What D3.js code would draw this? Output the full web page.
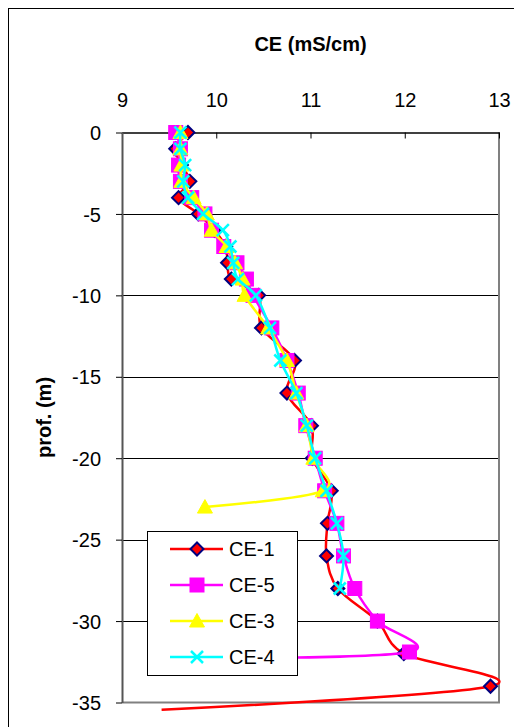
<!DOCTYPE html>
<html lang="en">
<head>
    <meta charset="UTF-8">
    <title>CE (mS/cm) vs prof. (m)</title>
    <style>
        html, body {
            margin: 0;
            padding: 0;
            background-color: white;
            overflow: hidden;
        }
        svg {
            display: block;
            font-family: "Liberation Sans", Arial, sans-serif;
        }
        .axis text {
            font-size: 20px;
            fill: #000;
        }
        .legend text {
            font-size: 20px;
            fill: #000;
        }
    </style>
    <script src="https://d3js.org/d3.v7.min.js"></script>
</head>
<body>
    <svg width="514" height="727"></svg>

    <script>
        // depth profiles (m) and conductivity readings (mS/cm) for each well
        const depthsCE1 = [0, -1, -2, -3, -4, -5, -6, -7, -8, -9, -10, -12, -14, -16, -18, -20, -22, -24, -26, -28, -30, -32, -34, -35.45];
        const valuesCE1 = [9.70, 9.57, 9.63, 9.72, 9.60, 9.81, 9.98, 10.10, 10.12, 10.16, 10.45, 10.48, 10.83, 10.75, 11.01, 11.02, 11.22, 11.18, 11.17, 11.29, 11.71, 11.99, 12.91, 9.42];

        const depthsCE5 = [0, -1, -2, -3, -4, -5, -6, -7, -8, -9, -10, -12, -14, -16, -18, -20, -22, -24, -26, -28, -30, -31.9, -32.3];
        const valuesCE5 = [9.57, 9.62, 9.60, 9.62, 9.74, 9.88, 9.95, 10.08, 10.22, 10.32, 10.39, 10.59, 10.75, 10.87, 10.95, 11.05, 11.15, 11.28, 11.35, 11.47, 11.71, 12.05, 9.90];

        const depthsCE3 = [0, -1, -2, -3, -4, -5, -6, -7, -8, -9, -10, -12, -14, -16, -18, -20, -22, -23];
        const valuesCE3 = [9.62, 9.62, 9.63, 9.63, 9.76, 9.90, 9.95, 10.11, 10.20, 10.28, 10.30, 10.55, 10.75, 10.85, 10.96, 11.03, 11.13, 9.88];

        const depthsCE4 = [0, -1, -2, -3, -4, -5, -6, -7, -8, -9, -10, -12, -14, -16, -18, -20, -22, -24, -26, -28];
        const valuesCE4 = [9.62, 9.62, 9.67, 9.65, 9.70, 9.86, 10.07, 10.15, 10.18, 10.23, 10.42, 10.57, 10.68, 10.85, 10.96, 11.05, 11.17, 11.28, 11.35, 11.31];

        const seriesNames = ["CE-1", "CE-5", "CE-3", "CE-4"];
        const xTicks = [9, 10, 11, 12, 13];
        const yTicks = [0, -5, -10, -15, -20, -25, -30, -35];

        const series = [
            { name: "CE-1", depths: depthsCE1, values: valuesCE1, color: "#ff0000", marker: "diamond" },
            { name: "CE-5", depths: depthsCE5, values: valuesCE5, color: "#ff00ff", marker: "square" },
            { name: "CE-3", depths: depthsCE3, values: valuesCE3, color: "#ffff00", marker: "triangle" },
            { name: "CE-4", depths: depthsCE4, values: valuesCE4, color: "#00ffff", marker: "cross" }
        ];

        const svg = d3.select("svg");
        const plot = { left: 122, right: 499, top: 132.5, bottom: 702.5 };

        const x = d3.scaleLinear().domain([9, 13]).range([plot.left, plot.right]);
        const y = d3.scaleLinear().domain([0, -35]).range([plot.top, plot.bottom]);

        // plain hyphen for negatives, no decimals
        const fmt = d => String(d);

        // chart frame
        svg.append("rect")
            .attr("x", 8.5).attr("y", 8.5)
            .attr("width", 600).attr("height", 800)
            .attr("fill", "white")
            .attr("stroke", "#000")
            .attr("stroke-width", 1);

        // horizontal gridlines
        svg.append("g")
            .selectAll("line")
            .data(yTicks.filter(d => d !== 0 && d !== -35))
            .enter().append("line")
            .attr("x1", plot.left).attr("x2", plot.right)
            .attr("y1", d => Math.round(y(d)) + 0.5)
            .attr("y2", d => Math.round(y(d)) + 0.5)
            .attr("stroke", "#000")
            .attr("stroke-width", 1);

        // plot area border (right and bottom)
        svg.append("path")
            .attr("d", `M${plot.right},${plot.top} V${plot.bottom} H${plot.left}`)
            .attr("fill", "none")
            .attr("stroke", "#808080")
            .attr("stroke-width", 2);

        // x axis along the top, ticks pointing into the plot
        const xAxis = svg.append("g")
            .attr("class", "axis")
            .attr("transform", `translate(0,${plot.top})`)
            .call(d3.axisTop(x).tickValues(xTicks).tickFormat(fmt)
                .tickSizeInner(-6).tickSizeOuter(0).tickPadding(26));
        xAxis.select(".domain").attr("stroke", "#000").attr("stroke-width", 1.5);
        xAxis.selectAll(".tick line").attr("stroke", "#000");

        // y axis on the left
        const yAxis = svg.append("g")
            .attr("class", "axis")
            .attr("transform", `translate(${plot.left},0)`)
            .call(d3.axisLeft(y).tickValues(yTicks).tickFormat(fmt)
                .tickSizeInner(6).tickSizeOuter(0).tickPadding(15));
        yAxis.select(".domain").attr("stroke", "#555").attr("stroke-width", 2);
        yAxis.selectAll(".tick line").attr("stroke", "#000");
        yAxis.selectAll(".tick text").attr("dy", "0.36em");

        // axis titles
        svg.append("text")
            .attr("x", (plot.left + plot.right) / 2)
            .attr("y", 51)
            .attr("text-anchor", "middle")
            .attr("font-size", "20px")
            .attr("font-weight", "bold")
            .text("CE (mS/cm)");

        svg.append("text")
            .attr("transform", `translate(51,${(plot.top + plot.bottom) / 2}) rotate(-90)`)
            .attr("text-anchor", "middle")
            .attr("font-size", "20px")
            .attr("font-weight", "bold")
            .text("prof. (m)");

        function drawMarker(g, type, color, cx, cy) {
            if (type === "diamond") {
                g.append("path")
                    .attr("d", `M${cx},${cy - 6.5} L${cx + 6.5},${cy} L${cx},${cy + 6.5} L${cx - 6.5},${cy} Z`)
                    .attr("fill", "#ff0000")
                    .attr("stroke", "#000080")
                    .attr("stroke-width", 2);
            } else if (type === "square") {
                g.append("rect")
                    .attr("x", cx - 7).attr("y", cy - 7)
                    .attr("width", 14).attr("height", 14)
                    .attr("fill", color)
                    .attr("stroke", color);
            } else if (type === "triangle") {
                g.append("path")
                    .attr("d", `M${cx},${cy - 7.5} L${cx + 7.5},${cy + 6} L${cx - 7.5},${cy + 6} Z`)
                    .attr("fill", color)
                    .attr("stroke", color);
            } else {
                g.append("path")
                    .attr("d", `M${cx - 6},${cy - 6} L${cx + 6},${cy + 6} M${cx + 6},${cy - 6} L${cx - 6},${cy + 6}`)
                    .attr("stroke", color)
                    .attr("stroke-width", 2.5);
            }
        }

        // smoothed lines like the spreadsheet's "smoothed line" option
        const line = d3.line()
            .x(d => x(d.v))
            .y(d => y(d.d))
            .curve(d3.curveCardinal.tension(0));

        series.forEach(s => {
            const pts = s.values.map((v, i) => ({ v: v, d: s.depths[i] }));
            const g = svg.append("g");
            g.append("path")
                .datum(pts)
                .attr("d", line)
                .attr("fill", "none")
                .attr("stroke", s.color)
                .attr("stroke-width", 2.5);
            // markers only inside the depth range of the axis
            pts.filter(p => p.d >= -35)
                .forEach(p => drawMarker(g, s.marker, s.color, x(p.v), y(p.d)));
        });

        // legend
        const legend = svg.append("g").attr("class", "legend");
        legend.append("rect")
            .attr("x", 147.5).attr("y", 531.5)
            .attr("width", 150).attr("height", 144)
            .attr("fill", "white")
            .attr("stroke", "#000")
            .attr("stroke-width", 1);

        series.forEach((s, i) => {
            const ly = 549 + i * 36;
            const g = legend.append("g");
            g.append("line")
                .attr("x1", 170).attr("x2", 223)
                .attr("y1", ly).attr("y2", ly)
                .attr("stroke", s.color)
                .attr("stroke-width", 2.5);
            drawMarker(g, s.marker, s.color, 197, ly);
            g.append("text")
                .attr("x", 229)
                .attr("y", ly + 7)
                .text(seriesNames[i]);
        });
    </script>
</body>
</html>
